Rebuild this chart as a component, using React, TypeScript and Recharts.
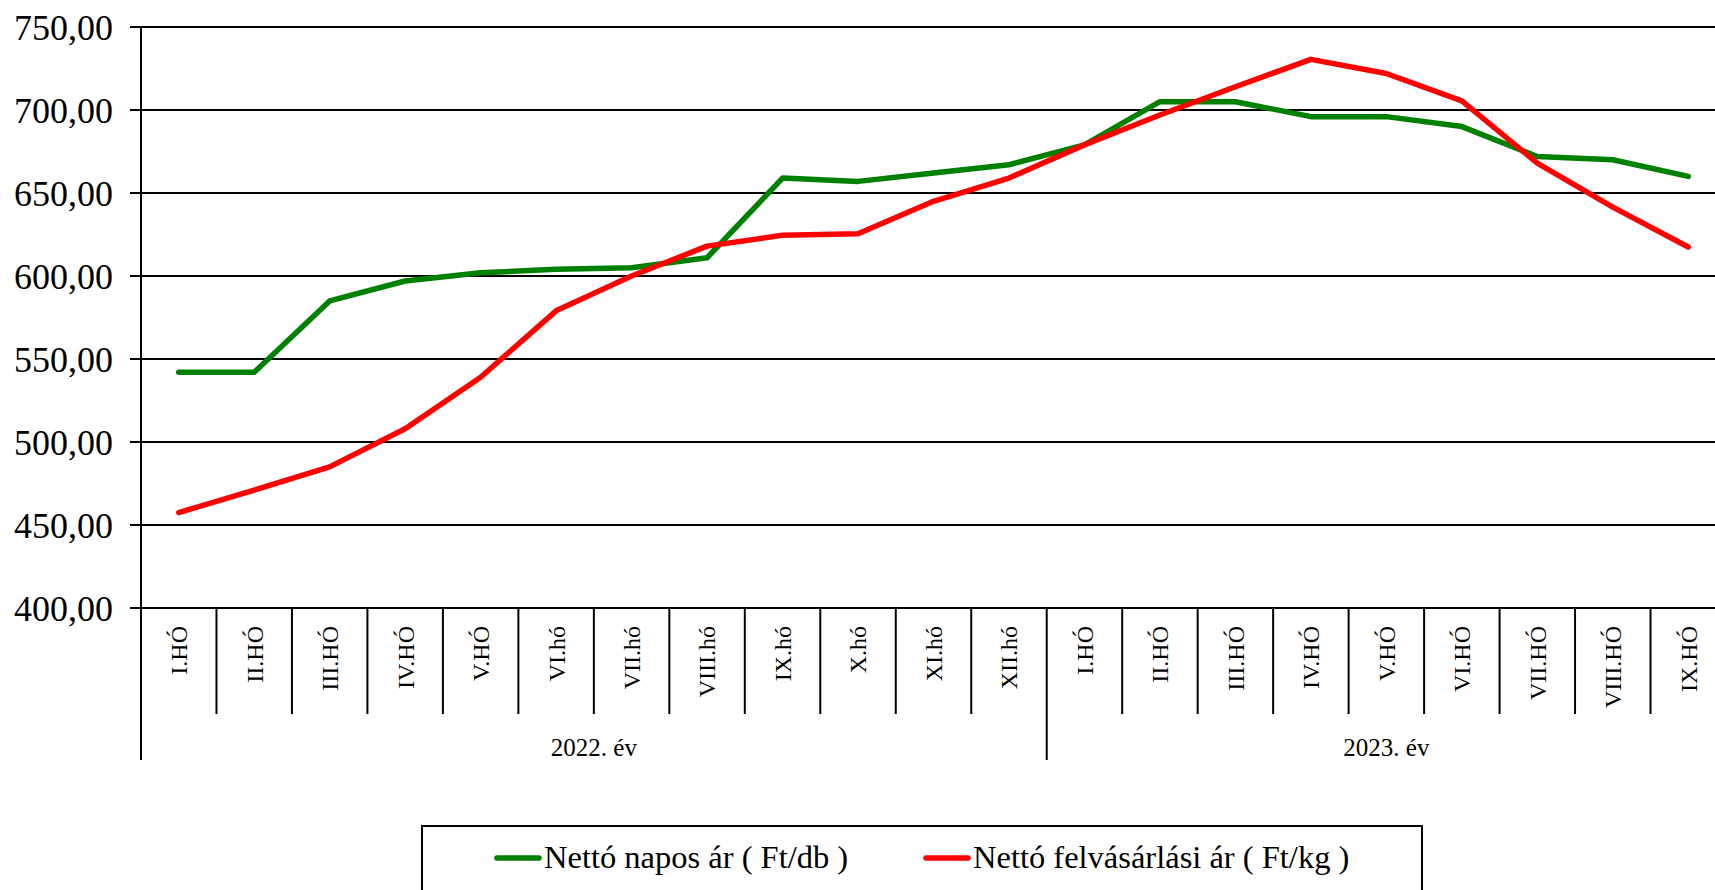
import { CartesianGrid, Legend, Line, LineChart, XAxis, YAxis } from 'recharts';

const months = [
  'I.HÓ', 'II.HÓ', 'III.HÓ', 'IV.HÓ', 'V.HÓ', 'VI.hó', 'VII.hó', 'VIII.hó', 'IX.hó', 'X.hó', 'XI.hó', 'XII.hó',
  'I.HÓ', 'II.HÓ', 'III.HÓ', 'IV.HÓ', 'V.HÓ', 'VI.HÓ', 'VII.HÓ', 'VIII.HÓ', 'IX.HÓ',
];
const yearLabels = ['2022. év', '2023. év'];
const monthsPerYear = [12, 9];

const naposAr = [542, 542, 585, 597, 602, 604, 605, 611, 659, 657, 662, 667, 679, 705, 705, 696, 696, 690, 672, 670, 660];
const felvasarlasiAr = [457.5, 471, 485, 508, 539, 579, 600, 618, 624.5, 625.5, 645, 659, 679, 697, 714, 730.5, 722, 705.5, 668, 641.5, 617.5];

const yTicks = [400, 450, 500, 550, 600, 650, 700, 750];

const seriesOrder = ['napos', 'felv'];

const data = months.map((m, i) => ({
  key: `m${i}`,
  month: m,
  napos: naposAr[i],
  felv: felvasarlasiAr[i],
}));

const yearStarts = monthsPerYear.map((_, i) => monthsPerYear.slice(0, i).reduce((a, b) => a + b, 0));

const FONT = '"Liberation Serif", "Times New Roman", serif';

function MonthTick(props: any) {
  const { x, y, index, width, visibleTicksCount } = props;
  const band = width / visibleTicksCount;
  const left = x - band / 2;
  const g = yearStarts.indexOf(index);
  return (
    <g>
      <line x1={left} x2={left} y1={y} y2={g >= 0 ? y + 152 : y + 106} stroke="#000" strokeWidth={2} />
      <text
        transform={`translate(${x},${y + 18}) rotate(-90)`}
        textAnchor="end"
        dy="0.35em"
        fontSize={24}
        fontFamily={FONT}
        fill="#000"
      >
        {months[index]}
      </text>
      {g >= 0 && (
        <text
          x={left + (monthsPerYear[g] * band) / 2}
          y={y + 148}
          textAnchor="middle"
          fontSize={25}
          fontFamily={FONT}
          fill="#000"
        >
          {yearLabels[g]}
        </text>
      )}
    </g>
  );
}

const legendX = [74, 503];

function LegendBox({ payload }: any) {
  const items = [...(payload || [])].sort(
    (a: any, b: any) => seriesOrder.indexOf(a.dataKey) - seriesOrder.indexOf(b.dataKey)
  );
  return (
    <svg width={1002} height={80}>
      <rect x={1} y={1} width={1000} height={120} fill="#fff" stroke="#000" strokeWidth={2} />
      {items.map((entry: any, i: number) => (
        <g key={entry.value}>
          <line
            x1={legendX[i] + 2}
            x2={legendX[i] + 44}
            y1={33}
            y2={33}
            stroke={entry.color}
            strokeWidth={5.5}
            strokeLinecap="round"
          />
          <text x={legendX[i] + 49} y={43} fontSize={32.5} fontFamily={FONT} fill="#000">
            {entry.value}
          </text>
        </g>
      ))}
    </svg>
  );
}

export default function App() {
  return (
    <div style={{ width: 1715, height: 890, overflow: 'hidden', position: 'relative', background: '#fff' }}>
      <style>{'body{margin:0}'}</style>
      <LineChart width={1726} height={890} data={data} margin={{ top: 27, right: 0, left: 0, bottom: 0 }}>
        <CartesianGrid horizontal vertical={false} stroke="#000" strokeWidth={2} />
        <XAxis
          dataKey="key"
          scale="band"
          interval={0}
          height={282}
          tickLine={false}
          tickSize={0}
          tickMargin={0}
          axisLine={{ stroke: '#000', strokeWidth: 2 }}
          tick={(p: any) => <MonthTick {...p} />}
        />
        <YAxis
          width={141}
          domain={[400, 750]}
          ticks={yTicks}
          interval={0}
          tickSize={11}
          tickMargin={17}
          tickLine={{ stroke: '#000', strokeWidth: 2 }}
          axisLine={{ stroke: '#000', strokeWidth: 2 }}
          tick={{ fill: '#000', fontSize: 36, fontFamily: FONT }}
          tickFormatter={(v: number) => v.toFixed(2).replace('.', ',')}
        />
        <Legend
          layout="horizontal"
          verticalAlign="middle"
          align="center"
          wrapperStyle={{ position: 'absolute', left: 421, top: 825, width: 1002, height: 80 }}
          content={(p: any) => <LegendBox {...p} />}
        />
        <Line
          type="linear"
          dataKey="napos"
          name="Nettó napos ár ( Ft/db )"
          stroke="#008000"
          strokeWidth={5.5}
          strokeLinecap="round"
          strokeLinejoin="round"
          dot={false}
          activeDot={false}
          isAnimationActive={false}
        />
        <Line
          type="linear"
          dataKey="felv"
          name="Nettó felvásárlási ár ( Ft/kg )"
          stroke="#ff0000"
          strokeWidth={5.5}
          strokeLinecap="round"
          strokeLinejoin="round"
          dot={false}
          activeDot={false}
          isAnimationActive={false}
        />
      </LineChart>
    </div>
  );
}
